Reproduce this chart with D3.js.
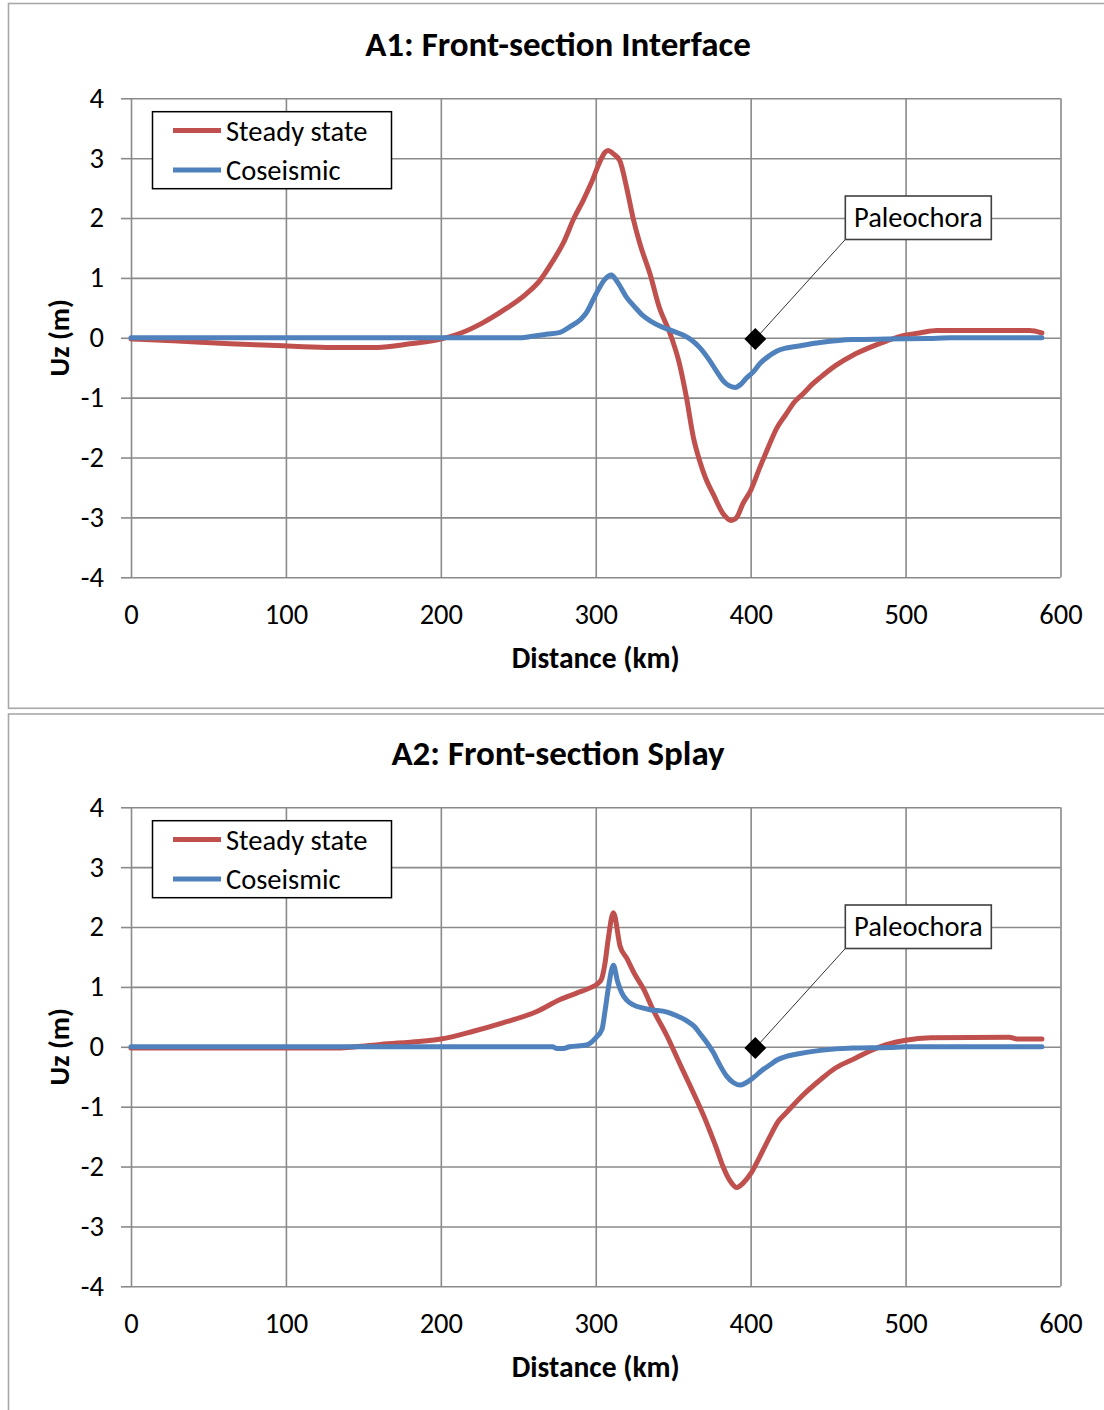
<!DOCTYPE html>
<html>
<head>
<meta charset="utf-8">
<script src="https://cdn.jsdelivr.net/npm/d3@7"></script>
<style>
  html, body { margin: 0; padding: 0; background: #fff; }
  svg { display: block; }
  text { font-family: Carlito, Calibri, Lato, "Open Sans", sans-serif; fill: #000; }
</style>
</head>
<body>
<svg id="chart" width="1104" height="1410"></svg>
<script>
// ---- data -------------------------------------------------------------
const distanceTicks = [0, 100, 200, 300, 400, 500, 600];
const uzTicks = [-4, -3, -2, -1, 0, 1, 2, 3, 4];
const seriesNames = ["Steady state", "Coseismic"];
const panelTitles = ["A1: Front-section Interface", "A2: Front-section Splay"];
const xTitle = "Distance (km)";
const yTitle = "Uz (m)";
const siteName = "Paleochora";
const sitePoint = [403, -0.02];   // km, m

// A1 – interface rupture: [distance km, Uz m]
const a1Steady = [
  [0,-0.02],[27,-0.05],[64,-0.1],[94,-0.13],[126,-0.16],[159,-0.16],[180,-0.1],[200,-0.02],
  [213,0.08],[227,0.25],[241,0.47],[255,0.73],[264,0.96],[272,1.27],[279,1.58],[286,2.0],
  [292,2.3],[297,2.58],[303,2.96],[306,3.1],[308,3.13],[311,3.08],[315.5,2.96],[320,2.5],
  [324,2.01],[328.5,1.57],[335,1.07],[341,0.51],[348,0.07],[354,-0.43],[358.5,-0.99],
  [363,-1.66],[367,-2.05],[371,-2.35],[376,-2.62],[382,-2.93],[387.5,-3.05],[391,-3.0],
  [395,-2.77],[400,-2.55],[406,-2.16],[411,-1.85],[416.6,-1.52],[423,-1.27],[428,-1.08],
  [434,-0.93],[440,-0.77],[445,-0.66],[455,-0.46],[466,-0.29],[477,-0.16],[488,-0.05],
  [499,0.04],[509,0.08],[520,0.12],[552,0.12],[580,0.12],[588,0.08]
];
const a1Coseismic = [
  [0,0],[250,0],[258,0.02],[268,0.06],[277,0.09],[283,0.18],[290,0.3],[294,0.42],[298,0.62],
  [302,0.82],[306,0.98],[310,1.05],[314,0.93],[319.8,0.68],[325,0.52],[330.5,0.37],[336,0.27],
  [341,0.2],[347,0.14],[352,0.09],[357,0.04],[362,-0.04],[367,-0.16],[373,-0.36],[378,-0.56],
  [382,-0.71],[386,-0.8],[390,-0.83],[393.5,-0.78],[397,-0.68],[401.7,-0.57],[406,-0.43],
  [412,-0.3],[417,-0.22],[423,-0.17],[430,-0.14],[445,-0.08],[466,-0.03],[488,-0.02],
  [515,-0.01],[530,0],[588,0]
];

// A2 – splay fault rupture
const a2Steady = [
  [0,-0.02],[134,-0.02],[145,0],[161,0.04],[186,0.09],[200,0.13],[221,0.26],[240,0.4],
  [262,0.59],[277,0.79],[288,0.9],[296,0.98],[302,1.07],[304,1.15],[306,1.4],[308,1.79],
  [311.4,2.24],[315.7,1.68],[320,1.48],[325,1.22],[331,0.96],[337,0.62],[346,0.18],
  [354,-0.27],[360,-0.6],[365,-0.88],[370,-1.17],[374,-1.43],[378,-1.7],[382,-1.99],
  [387,-2.25],[391,-2.35],[395,-2.28],[400,-2.12],[406,-1.83],[412,-1.52],[418,-1.24],
  [423,-1.1],[434,-0.8],[445,-0.55],[455,-0.35],[466,-0.21],[477,-0.07],[488,0.04],
  [500,0.11],[516,0.15],[567,0.16],[572,0.13],[588,0.13]
];
const a2Coseismic = [
  [0,0],[272,0],[275,-0.03],[279,-0.03],[283,0],[294,0.03],[300,0.15],[304,0.29],[306,0.6],
  [308,0.96],[311.4,1.36],[314,1.1],[316.8,0.9],[320,0.78],[324.3,0.7],[330,0.65],[335,0.62],
  [346,0.58],[352,0.52],[359,0.43],[364,0.33],[367,0.23],[372,0.06],[376,-0.1],[380,-0.3],
  [384.5,-0.49],[389,-0.6],[393,-0.64],[397,-0.6],[402,-0.51],[407,-0.4],[412.5,-0.3],
  [417,-0.22],[423,-0.16],[430,-0.12],[445,-0.06],[466,-0.02],[490,-0.01],[500,0],[588,0]
];

// ---- styling ----------------------------------------------------------
const colors = { steady: "#C0504D", coseismic: "#4F81BD" };
const gridColor = "#8a8a8a";
const frameColor = "#a8a8a8";
const labelSize = 28.5;
const plainNumber = d => String(d);   // hyphen-minus, as in the printed axes

const svg = d3.select("#chart");

function drawPanel(offsetY, frameTop, frameBottom, title, steady, coseismic) {
  const g = svg.append("g").attr("transform", `translate(0,${offsetY})`);

  // chart-area frame (runs past the right/bottom edge of the page)
  g.append("rect")
    .attr("x", 8.5).attr("y", frameTop)
    .attr("width", 1200).attr("height", frameBottom - frameTop)
    .attr("fill", "#fff").attr("stroke", frameColor).attr("stroke-width", 1.6);

  const left = 131, right = 1060.5, top = 98.3, bottom = 577.3;
  const x = d3.scaleLinear().domain([0, 600]).range([left, right]);
  const y = d3.scaleLinear().domain([-4, 4]).range([bottom, top]);

  // gridlines
  g.append("g").attr("transform", `translate(${left},0)`)
    .call(d3.axisLeft(y).tickValues(uzTicks).tickSize(-(right - left)).tickFormat(""))
    .call(s => s.select(".domain").remove())
    .call(s => s.selectAll("line").attr("stroke", gridColor).attr("stroke-width", 1.6));
  g.append("g").attr("transform", `translate(0,${bottom})`)
    .call(d3.axisBottom(x).tickValues(distanceTicks).tickSize(-(bottom - top)).tickFormat(""))
    .call(s => s.select(".domain").remove())
    .call(s => s.selectAll("line").attr("stroke", gridColor).attr("stroke-width", 1.6));

  // y axis ticks + labels
  g.append("g").attr("transform", `translate(${left},0)`)
    .call(d3.axisLeft(y).tickValues(uzTicks).tickSize(10).tickPadding(17).tickFormat(plainNumber))
    .call(s => s.select(".domain").remove())
    .call(s => s.selectAll("line").attr("stroke", gridColor).attr("stroke-width", 1.6))
    .call(s => s.selectAll("text").attr("font-size", labelSize).attr("font-family", null)
      .attr("fill", "#000").attr("dy", "0.31em"));

  // x axis labels
  g.append("g").attr("transform", `translate(0,${bottom})`)
    .call(d3.axisBottom(x).tickValues(distanceTicks).tickSize(0).tickFormat(plainNumber))
    .call(s => s.select(".domain").remove())
    .call(s => s.selectAll("text").attr("font-size", labelSize).attr("font-family", null)
      .attr("fill", "#000").attr("y", 46.5).attr("dy", null));

  // titles
  g.append("text").attr("x", 558).attr("y", 56)
    .attr("text-anchor", "middle").attr("font-size", 35).attr("font-weight", "bold")
    .text(title);
  g.append("text").attr("x", (left + right) / 2).attr("y", 668)
    .attr("text-anchor", "middle").attr("font-size", 29.5).attr("font-weight", "bold")
    .text(xTitle);
  g.append("text")
    .attr("transform", `translate(69,${(top + bottom) / 2}) rotate(-90)`)
    .attr("text-anchor", "middle").attr("font-size", 28.5).attr("font-weight", "bold")
    .text(yTitle);

  // series
  const line = d3.line().x(d => x(d[0])).y(d => y(d[1])).curve(d3.curveMonotoneX);
  [[steady, colors.steady], [coseismic, colors.coseismic]].forEach(([data, c]) => {
    g.append("path").datum(data)
      .attr("d", line).attr("fill", "none").attr("stroke", c)
      .attr("stroke-width", 5).attr("stroke-linejoin", "round").attr("stroke-linecap", "round");
  });

  // legend
  const lg = g.append("g");
  lg.append("rect").attr("x", 152.5).attr("y", 111.7).attr("width", 239).attr("height", 77)
    .attr("fill", "#fff").attr("stroke", "#000").attr("stroke-width", 1.5);
  [[seriesNames[0], colors.steady, 130.5], [seriesNames[1], colors.coseismic, 170]].forEach(([name, c, ly]) => {
    lg.append("line").attr("x1", 173).attr("x2", 221).attr("y1", ly).attr("y2", ly)
      .attr("stroke", c).attr("stroke-width", 5);
    lg.append("text").attr("x", 226).attr("y", ly + 10).attr("font-size", labelSize).text(name);
  });

  // site marker with callout
  const mx = x(sitePoint[0]), my = y(sitePoint[1]);
  const boxX = mx + 90, boxBottom = my - 99.5, boxW = 146, boxH = 43.5;
  g.append("line").attr("x1", mx).attr("y1", my).attr("x2", boxX).attr("y2", boxBottom)
    .attr("stroke", "#333").attr("stroke-width", 1);
  g.append("path")
    .attr("d", d3.symbol().type(d3.symbolSquare).size(240)())
    .attr("transform", `translate(${mx},${my}) rotate(45)`)
    .attr("fill", "#000");
  g.append("rect").attr("x", boxX).attr("y", boxBottom - boxH).attr("width", boxW).attr("height", boxH)
    .attr("fill", "#fff").attr("stroke", "#404040").attr("stroke-width", 1.6);
  g.append("text").attr("x", boxX + boxW / 2).attr("y", boxBottom - 12)
    .attr("text-anchor", "middle").attr("font-size", labelSize).text(siteName);
}

drawPanel(0, 3.5, 708.3, panelTitles[0], a1Steady, a1Coseismic);
drawPanel(709, 5, 1000, panelTitles[1], a2Steady, a2Coseismic);
</script>
</body>
</html>
